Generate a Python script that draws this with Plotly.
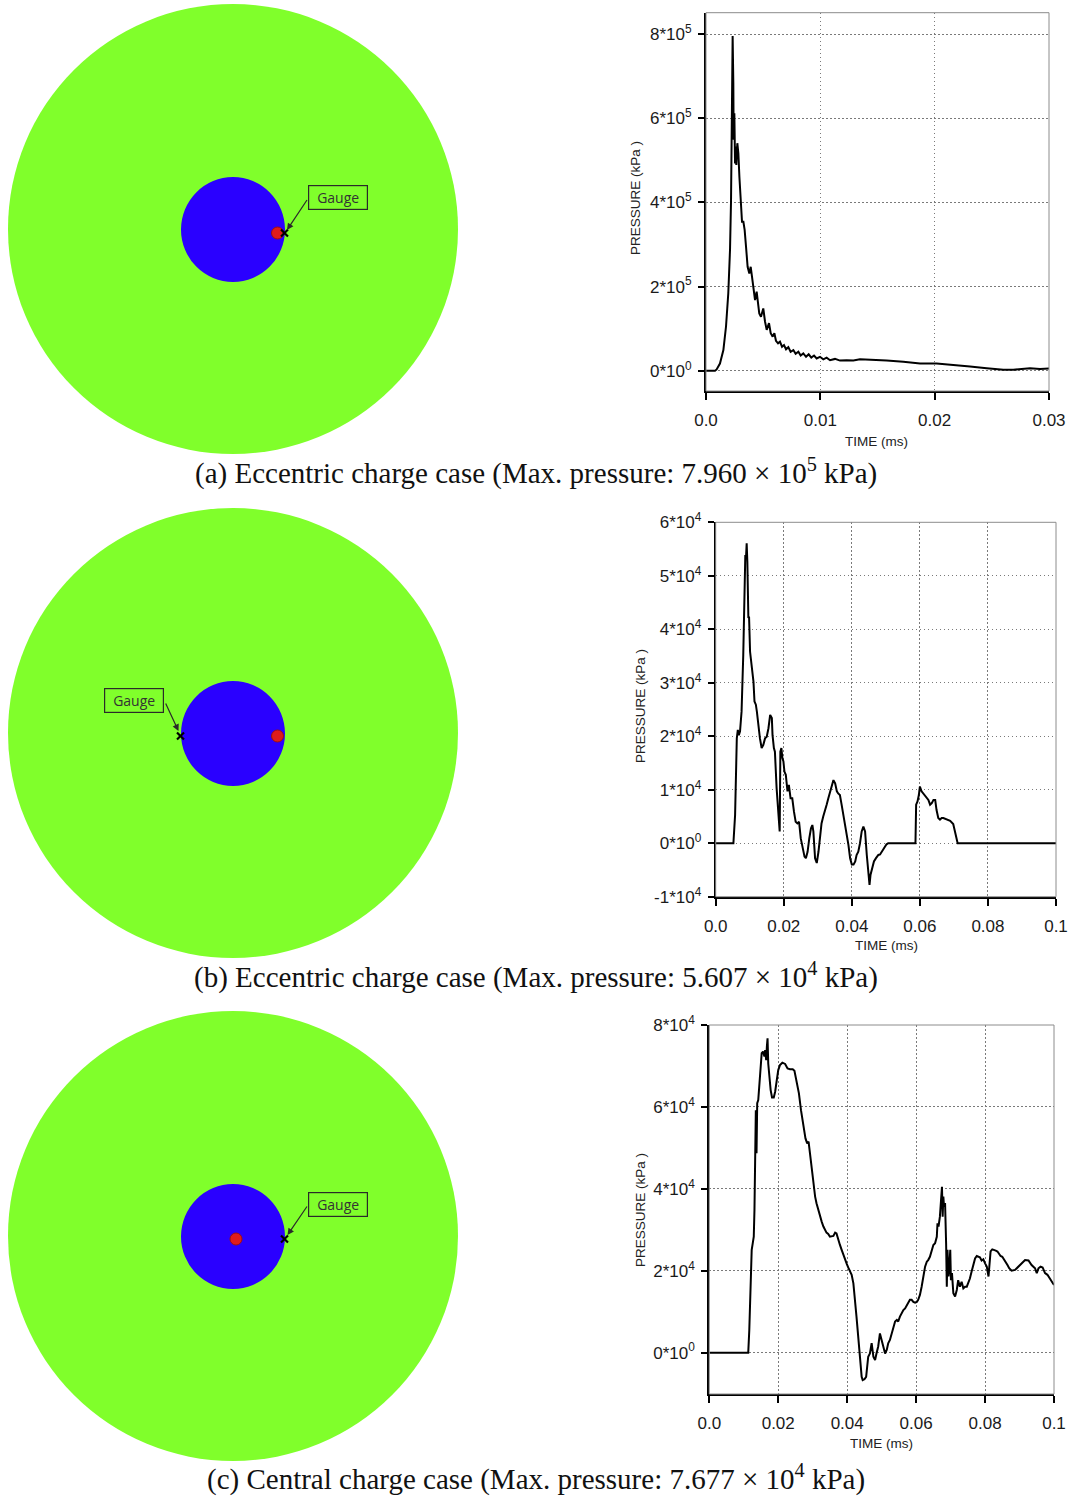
import plotly.graph_objects as go

W, H = 1072, 1496

# ---------------- data (time in ms, pressure in kPa) ----------------
time_a = [0, 0.00079, 0.00093, 0.00122, 0.00152, 0.00175, 0.00195, 0.0021, 0.00219, 0.00224,
          0.0023, 0.00233, 0.00239, 0.00242, 0.00248, 0.00254, 0.00259, 0.00265, 0.00274, 0.00283,
          0.00292, 0.00303, 0.00315, 0.00327, 0.00338, 0.0035, 0.00364, 0.00379, 0.00391, 0.00402,
          0.00414, 0.00429, 0.00443, 0.00455, 0.00466, 0.00481, 0.00501, 0.00516, 0.00531, 0.00551,
          0.00566, 0.00583, 0.00598, 0.00612, 0.0063, 0.00647, 0.00665, 0.00682, 0.007, 0.0072,
          0.0074, 0.00764, 0.00784, 0.00808, 0.00828, 0.00851, 0.00875, 0.00898, 0.00921, 0.00945,
          0.00968, 0.00997, 0.01026, 0.01055, 0.01085, 0.01128, 0.01172, 0.0123, 0.01289, 0.01347,
          0.01464, 0.0158, 0.01726, 0.01872, 0.02017, 0.02163, 0.02309, 0.02455, 0.026, 0.02688,
          0.02776, 0.02834, 0.02921, 0.03]
pressure_a_1e5 = [0, 0, 0.03, 0.17, 0.49, 1.05, 1.84, 2.87, 4.06, 5.65,
                  7.23, 7.96, 6.83, 5.49, 6.12, 4.93, 5.33, 4.89, 5.41, 5.17,
                  4.61, 4.06, 3.54, 3.54, 3.35, 2.95, 2.47, 2.31, 2.47, 2.24,
                  1.92, 1.68, 1.88, 1.60, 1.36, 1.28, 1.48, 1.17, 0.97, 1.13,
                  0.89, 0.81, 0.89, 0.71, 0.65, 0.69, 0.57, 0.61, 0.51, 0.56,
                  0.45, 0.49, 0.40, 0.45, 0.36, 0.41, 0.33, 0.39, 0.31, 0.36,
                  0.29, 0.33, 0.27, 0.31, 0.25, 0.28, 0.24, 0.25, 0.24, 0.27,
                  0.26, 0.24, 0.21, 0.17, 0.17, 0.14, 0.10, 0.06, 0.02, 0.02,
                  0.04, 0.06, 0.04, 0.05]

time_b = [0, 0.0052, 0.0057, 0.0062, 0.0065, 0.0068, 0.00715, 0.0076, 0.0081, 0.0084,
          0.0087, 0.0089, 0.0091, 0.0093, 0.0096, 0.0098, 0.0101, 0.0106, 0.0111, 0.0114,
          0.0118, 0.0121, 0.0125, 0.013, 0.0135, 0.014, 0.0145, 0.015, 0.0155, 0.016,
          0.0165, 0.0167, 0.0171, 0.0174, 0.0179, 0.0184, 0.0188, 0.019, 0.0193, 0.0196,
          0.0199, 0.0202, 0.0206, 0.0211, 0.0215, 0.022, 0.0225, 0.023, 0.0235, 0.024,
          0.0245, 0.025, 0.0256, 0.0261, 0.0265, 0.027, 0.0275, 0.028, 0.0284, 0.0287,
          0.0292, 0.0297, 0.0302, 0.0307, 0.0311, 0.0316, 0.0321, 0.0326, 0.0331, 0.0336,
          0.0341, 0.0346, 0.0351, 0.0356, 0.036, 0.0365, 0.037, 0.0375, 0.038, 0.0385,
          0.039, 0.0395, 0.04, 0.0405, 0.041, 0.0414, 0.0419, 0.0424, 0.0429, 0.0434,
          0.0439, 0.0444, 0.0449, 0.0452, 0.0455, 0.046, 0.0465, 0.0471, 0.0478, 0.0483,
          0.0493, 0.0502, 0.0507, 0.0587, 0.0589, 0.0593, 0.0597, 0.06, 0.0605, 0.061,
          0.0615, 0.062, 0.0625, 0.063, 0.0635, 0.064, 0.0645, 0.0649, 0.0654, 0.0659,
          0.0664, 0.0669, 0.0679, 0.0689, 0.0698, 0.0703, 0.0708, 0.0711, 0.1]
pressure_b_1e4 = [0, 0, 0.53, 1.96, 2.12, 2.02, 2.09, 2.46, 3.52, 4.95,
                  5.39, 5.33, 5.607, 5.26, 4.21, 4.24, 3.58, 3.33, 3.02, 2.65,
                  2.59, 2.46, 2.21, 1.96, 1.78, 1.84, 1.96, 1.99, 2.15, 2.40,
                  2.34, 2.02, 1.78, 1.71, 1.03, 0.59, 0.22, 1.71, 1.78, 1.59,
                  1.53, 1.34, 1.28, 0.97, 1.09, 0.84, 0.84, 0.59, 0.40, 0.37,
                  0.40, 0.09, -0.09, -0.25, -0.28, -0.16, 0.09, 0.28, 0.34, 0.22,
                  -0.28, -0.37, -0.16, 0.22, 0.37, 0.50, 0.59, 0.72, 0.84, 0.97,
                  1.09, 1.18, 1.12, 0.97, 0.93, 0.90, 0.72, 0.53, 0.34, 0.19,
                  -0.03, -0.28, -0.40, -0.40, -0.34, -0.22, -0.16, 0, 0.22, 0.31,
                  0.22, -0.22, -0.65, -0.78, -0.59, -0.44, -0.34, -0.28, -0.22, -0.21,
                  -0.12, -0.02, 0, 0, 0.72, 0.78, 0.90, 1.06, 0.97, 0.93,
                  0.87, 0.84, 0.81, 0.72, 0.75, 0.81, 0.81, 0.62, 0.47, 0.44,
                  0.47, 0.47, 0.45, 0.42, 0.36, 0.22, 0.03, 0, 0]

time_c = [0, 0.0113, 0.0116, 0.0119, 0.0123, 0.0126, 0.0129, 0.0131, 0.0133, 0.0135,
          0.0137, 0.0139, 0.0142, 0.0145, 0.0148, 0.0152, 0.0156, 0.016, 0.0162, 0.0165,
          0.0167, 0.0169, 0.0171, 0.0174, 0.0178, 0.0182, 0.0187, 0.0191, 0.0195, 0.02,
          0.0205, 0.0212, 0.022, 0.0227, 0.0234, 0.0242, 0.0247, 0.0253, 0.026, 0.0266,
          0.0273, 0.0279, 0.0284, 0.0288, 0.0292, 0.0297, 0.0302, 0.0307, 0.0311, 0.0316,
          0.0321, 0.0326, 0.0331, 0.0336, 0.034, 0.0345, 0.035, 0.036, 0.0365, 0.0369,
          0.0374, 0.0379, 0.0384, 0.0389, 0.0394, 0.0399, 0.0403, 0.0408, 0.0413, 0.0418,
          0.0423, 0.0427, 0.0432, 0.0437, 0.0442, 0.0445, 0.045, 0.0455, 0.0458, 0.0461,
          0.0466, 0.0471, 0.0476, 0.0481, 0.0485, 0.049, 0.0495, 0.05, 0.0505, 0.051,
          0.0515, 0.0519, 0.0524, 0.0529, 0.0534, 0.0539, 0.0544, 0.0548, 0.0553, 0.0558,
          0.0563, 0.0568, 0.0573, 0.0577, 0.0582, 0.0587, 0.0592, 0.0597, 0.0602, 0.0606,
          0.0611, 0.0616, 0.0621, 0.0626, 0.0631, 0.0635, 0.064, 0.0645, 0.065, 0.0655,
          0.066, 0.0662, 0.0665, 0.0669, 0.0672, 0.0675, 0.0677, 0.0679, 0.0681, 0.0684,
          0.0687, 0.0689, 0.0691, 0.0694, 0.0697, 0.0699, 0.0701, 0.0704, 0.0708, 0.0713,
          0.0718, 0.0722, 0.0727, 0.0732, 0.0737, 0.0742, 0.0747, 0.0751, 0.0756, 0.0761,
          0.0766, 0.0771, 0.0776, 0.0781, 0.0785, 0.079, 0.0795, 0.08, 0.0805, 0.081,
          0.0812, 0.0816, 0.0821, 0.0826, 0.0831, 0.0836, 0.084, 0.0845, 0.085, 0.0855,
          0.086, 0.0865, 0.087, 0.0877, 0.0887, 0.0897, 0.0906, 0.0916, 0.0926, 0.0935,
          0.0945, 0.095, 0.0955, 0.0961, 0.0967, 0.0974, 0.0981, 0.0988, 0.0995, 0.1]
pressure_c_1e4 = [0, 0, 0.55, 1.69, 2.51, 2.67, 2.83, 3.48, 4.46, 5.92,
                  4.87, 6.09, 6.17, 6.57, 7.06, 7.31, 7.35, 7.23, 7.39, 7.14,
                  7.47, 7.677, 7.06, 6.74, 6.41, 6.23, 6.23, 6.37, 6.66, 6.90,
                  7.02, 7.08, 7.05, 6.94, 6.92, 6.92, 6.88, 6.66, 6.33, 5.92,
                  5.60, 5.23, 5.11, 5.15, 4.87, 4.46, 4.13, 3.81, 3.65, 3.48,
                  3.32, 3.20, 3.08, 2.99, 2.93, 2.90, 2.83, 2.85, 2.93, 2.91,
                  2.75, 2.63, 2.51, 2.38, 2.26, 2.16, 2.08, 1.98, 1.90, 1.69,
                  1.29, 0.88, 0.39, -0.10, -0.59, -0.67, -0.65, -0.59, -0.26, -0.10,
                  -0.02, 0.23, -0.10, -0.18, -0.02, 0.15, 0.47, 0.31, 0.15, -0.02,
                  0.07, 0.23, 0.31, 0.47, 0.63, 0.76, 0.80, 0.76, 0.88, 0.96,
                  1.04, 1.08, 1.16, 1.24, 1.29, 1.29, 1.24, 1.22, 1.24, 1.29,
                  1.41, 1.61, 1.86, 2.10, 2.22, 2.26, 2.34, 2.51, 2.63, 2.67,
                  2.83, 3.16, 3.08, 3.32, 3.81, 4.05, 3.32, 3.81, 3.56, 3.65,
                  2.67, 1.61, 2.51, 1.86, 2.18, 2.51, 1.77, 1.94, 1.45, 1.37,
                  1.53, 1.77, 1.61, 1.73, 1.57, 1.61, 1.61, 1.69, 1.81, 1.98,
                  2.14, 2.30, 2.36, 2.34, 2.33, 2.25, 2.28, 2.18, 2.10, 1.86,
                  2.10, 2.47, 2.52, 2.51, 2.49, 2.47, 2.42, 2.36, 2.34, 2.28,
                  2.22, 2.14, 2.06, 2.00, 2.02, 2.10, 2.18, 2.26, 2.25, 2.14,
                  2.06, 1.94, 2.06, 2.10, 2.08, 1.94, 1.90, 1.81, 1.71, 1.65]

assert len(time_a) == len(pressure_a_1e5)
assert len(time_b) == len(pressure_b_1e4)
assert len(time_c) == len(pressure_c_1e4)

x_ticks_a = [0, 0.01, 0.02, 0.03]
x_labels_a = ["0.0", "0.01", "0.02", "0.03"]
x_ticks_bc = [0, 0.02, 0.04, 0.06, 0.08, 0.1]
x_labels_bc = ["0.0", "0.02", "0.04", "0.06", "0.08", "0.1"]
y_ticks_a = [0, 2e5, 4e5, 6e5, 8e5]
y_labels_a = ["0*10<sup>0</sup>", "2*10<sup>5</sup>", "4*10<sup>5</sup>", "6*10<sup>5</sup>", "8*10<sup>5</sup>"]
y_ticks_b = [-1e4, 0, 1e4, 2e4, 3e4, 4e4, 5e4, 6e4]
y_labels_b = ["-1*10<sup>4</sup>", "0*10<sup>0</sup>", "1*10<sup>4</sup>", "2*10<sup>4</sup>",
              "3*10<sup>4</sup>", "4*10<sup>4</sup>", "5*10<sup>4</sup>", "6*10<sup>4</sup>"]
y_ticks_c = [0, 2e4, 4e4, 6e4, 8e4]
y_labels_c = ["0*10<sup>0</sup>", "2*10<sup>4</sup>", "4*10<sup>4</sup>", "6*10<sup>4</sup>", "8*10<sup>4</sup>"]

captions = [
    "(a) Eccentric charge case (Max. pressure: 7.960 × 10<sup>5</sup> kPa)",
    "(b) Eccentric charge case (Max. pressure: 5.607 × 10<sup>4</sup> kPa)",
    "(c) Central charge case (Max. pressure: 7.677 × 10<sup>4</sup> kPa)",
]

# ---------------- helpers ----------------
def PX(x):
    return x / W

def PY(y):
    return 1 - y / H

TICK_FONT = dict(family="Liberation Sans, Arial", size=17, color="#1a1a1a")
TITLE_FONT = dict(family="Liberation Sans, Arial", size=13.5, color="#222")
CAP_FONT = dict(family="Liberation Serif, Times New Roman, serif", size=29, color="#111")
GRID_DASH = "1.5px,2.5px"

fig = go.Figure()

series = [
    (time_a, [v * 1e5 for v in pressure_a_1e5]),
    (time_b, [v * 1e4 for v in pressure_b_1e4]),
    (time_c, [v * 1e4 for v in pressure_c_1e4]),
]
for i, (tx, py) in enumerate(series):
    sfx = "" if i == 0 else str(i + 1)
    fig.add_trace(go.Scatter(x=tx, y=py, mode="lines", line=dict(color="black", width=2),
                             xaxis="x" + sfx, yaxis="y" + sfx, showlegend=False, hoverinfo="skip"))

# panel layout (pixel geometry)
panels = [
    dict(l=706, r=1049, top=12.7, bottom=391, xr=[0, 0.03], yr=[-48300, 851300],
         xt=x_ticks_a, xl=x_labels_a, yt=y_ticks_a, yl=y_labels_a,
         ytitle=(636, 198), xtitle=(876, 441)),
    dict(l=715.7, r=1056, top=522.3, bottom=896.7, xr=[0, 0.1], yr=[-1e4, 6e4],
         xt=x_ticks_bc, xl=x_labels_bc, yt=y_ticks_b, yl=y_labels_b,
         ytitle=(640, 706), xtitle=(886, 945)),
    dict(l=709.3, r=1054, top=1025, bottom=1394, xr=[0, 0.1], yr=[-1.01e4, 8e4],
         xt=x_ticks_bc, xl=x_labels_bc, yt=y_ticks_c, yl=y_labels_c,
         ytitle=(640, 1210), xtitle=(881, 1443)),
]

layout = dict(width=W, height=H, margin=dict(l=0, r=0, t=0, b=0, pad=0, autoexpand=False),
              paper_bgcolor="white", plot_bgcolor="rgba(0,0,0,0)", showlegend=False)
shapes = []
annotations = []
for i, p in enumerate(panels):
    sfx = "" if i == 0 else str(i + 1)
    layout["xaxis" + sfx] = dict(
        domain=[PX(p["l"]), PX(p["r"])], range=p["xr"], anchor="y" + sfx, automargin=False,
        tickmode="array", tickvals=p["xt"], ticktext=p["xl"],
        ticks="outside", ticklen=7, tickwidth=1.5, tickcolor="black",
        ticklabelstandoff=6,
        showline=True, linecolor="black", linewidth=2,
        showgrid=True, gridcolor="#7a7a7a", griddash=GRID_DASH, gridwidth=1,
        zeroline=False, tickfont=TICK_FONT, fixedrange=True)
    layout["yaxis" + sfx] = dict(
        domain=[PY(p["bottom"]), PY(p["top"])], range=p["yr"], anchor="x" + sfx, automargin=False,
        tickmode="array", tickvals=p["yt"], ticktext=p["yl"],
        ticks="outside", ticklen=6, tickwidth=1.5, tickcolor="black",
        ticklabelstandoff=3,
        showline=True, linecolor="black", linewidth=2,
        showgrid=True, gridcolor="#7a7a7a", griddash=GRID_DASH, gridwidth=1,
        zeroline=False, tickfont=TICK_FONT, fixedrange=True)
    # thin frame on top/right
    shapes.append(dict(type="rect", xref="x" + sfx + " domain", yref="y" + sfx + " domain",
                       x0=0, x1=1, y0=0, y1=1, line=dict(color="#8c8c8c", width=1), layer="above"))
    annotations.append(dict(text="PRESSURE (kPa )", x=PX(p["ytitle"][0]), y=PY(p["ytitle"][1]),
                            xref="paper", yref="paper", showarrow=False, textangle=-90,
                            font=TITLE_FONT, xanchor="center", yanchor="middle"))
    annotations.append(dict(text="TIME (ms)", x=PX(p["xtitle"][0]), y=PY(p["xtitle"][1]),
                            xref="paper", yref="paper", showarrow=False,
                            font=TITLE_FONT, xanchor="center", yanchor="middle"))

# ---------------- schematic diagrams ----------------
GREEN = "#80FF2B"
BLUE = "#2A00FF"
RED = "#E01B1B"

diagrams = [
    dict(cy=229, dot=(277.5, 233), gauge=(284.5, 233), box=(338, 198),
         arrow_tail=(308, 198.5), arrow_head=(287, 230)),
    dict(cy=733, dot=(277.5, 736), gauge=(180.5, 736), box=(134, 701),
         arrow_tail=(165, 702), arrow_head=(178.5, 731)),
    dict(cy=1236, dot=(236, 1239), gauge=(284.5, 1239), box=(338, 1204),
         arrow_tail=(308, 1205), arrow_head=(287.5, 1235)),
]
CX = 233
R_OUT = 225
R_IN = 52
R_DOT = 6
for d in diagrams:
    cy = d["cy"]
    shapes.append(dict(type="circle", xref="paper", yref="paper",
                       x0=PX(CX - R_OUT), x1=PX(CX + R_OUT), y0=PY(cy + R_OUT), y1=PY(cy - R_OUT),
                       fillcolor=GREEN, line=dict(width=0), layer="below"))
    shapes.append(dict(type="circle", xref="paper", yref="paper",
                       x0=PX(CX - R_IN), x1=PX(CX + R_IN), y0=PY(cy + R_IN + 1), y1=PY(cy - R_IN),
                       fillcolor=BLUE, line=dict(width=0), layer="below"))
    dx, dy = d["dot"]
    shapes.append(dict(type="circle", xref="paper", yref="paper",
                       x0=PX(dx - R_DOT), x1=PX(dx + R_DOT), y0=PY(dy + R_DOT), y1=PY(dy - R_DOT),
                       fillcolor=RED, line=dict(color="#A01010", width=1), layer="below"))
    gx, gy = d["gauge"]
    for sgn in (1, -1):
        shapes.append(dict(type="line", xref="paper", yref="paper",
                           x0=PX(gx - 3.5), x1=PX(gx + 3.5), y0=PY(gy - 3.5 * sgn), y1=PY(gy + 3.5 * sgn),
                           line=dict(color="black", width=2.2)))
    bx, by = d["box"]
    annotations.append(dict(text="Gauge", x=PX(bx), y=PY(by), xref="paper", yref="paper",
                            showarrow=False, xanchor="center", yanchor="middle",
                            width=56, height=21, borderpad=1, bordercolor="#2a2a2a", borderwidth=1.2,
                            font=dict(family="Open Sans, Noto Sans, sans-serif", size=14, color="#333")))
    hx, hy = d["arrow_head"]
    tx, ty = d["arrow_tail"]
    annotations.append(dict(text="", x=PX(hx), y=PY(hy), xref="paper", yref="paper",
                            showarrow=True, ax=tx - hx, ay=ty - hy, axref="pixel", ayref="pixel",
                            arrowhead=2, arrowsize=1.1, arrowwidth=1.2, arrowcolor="#2a2a2a"))

# captions
for cap, cy in zip(captions, [472, 975, 1477]):
    annotations.append(dict(text=cap, x=PX(536), y=PY(cy), xref="paper", yref="paper",
                            showarrow=False, xanchor="center", yanchor="middle", font=CAP_FONT))

layout["shapes"] = shapes
layout["annotations"] = annotations
fig.update_layout(**layout)
fig.write_html("out.html")
